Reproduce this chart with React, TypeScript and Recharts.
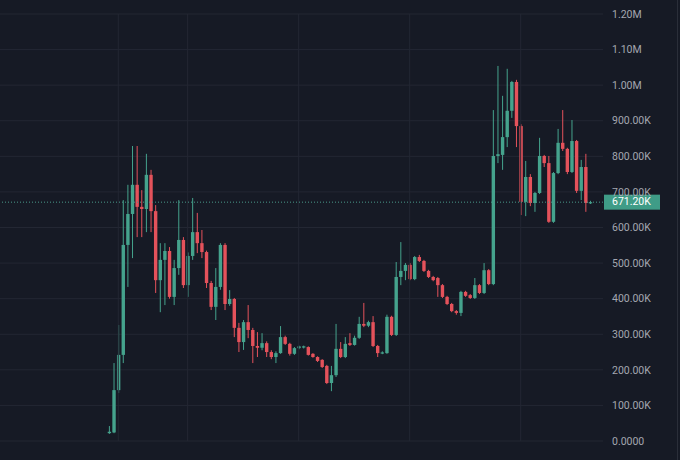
import { Bar, CartesianGrid, ComposedChart, ReferenceLine, XAxis, YAxis } from 'recharts';

// candle values in thousands
const opens = [
  22, 24, 143, 242, 551, 638, 720, 658, 652, 748, 646, 452, 509, 534, 405, 486, 565, 438, 520, 587,
  556, 531, 444, 377, 433, 551, 385, 399, 318, 278, 334, 312, 267, 262, 275, 250, 236, 247, 292, 273,
  245, 261, 264, 264, 245, 236, 228, 211, 163, 185, 259, 236, 275, 270, 290, 329, 324, 334, 267, 247,
  247, 349, 298, 461, 478, 495, 455, 517, 506, 478, 461, 458, 438, 405, 385, 365, 360, 419, 410, 402,
  438, 416, 480, 441, 801, 804, 854, 928, 1009, 885, 672, 742, 669, 697, 801, 781, 616, 753, 838, 821,
  756, 843, 703, 770, 669,
];
const highs = [
  42, 219, 326, 677, 720, 829, 829, 705, 807, 762, 663, 556, 556, 545, 509, 677, 573, 530, 683, 641,
  593, 535, 450, 486, 556, 556, 424, 402, 332, 340, 382, 318, 306, 303, 280, 255, 252, 323, 296, 276,
  264, 268, 268, 266, 247, 238, 230, 214, 211, 329, 278, 292, 303, 296, 349, 388, 338, 351, 270, 252,
  355, 352, 503, 559, 500, 500, 520, 523, 509, 481, 464, 461, 441, 408, 388, 368, 422, 422, 413, 458,
  441, 500, 483, 930, 1054, 970, 1046, 1012, 1015, 890, 787, 750, 700, 852, 804, 801, 756, 877, 930, 824,
  902, 846, 790, 807, 675,
];
const lows = [
  20, 22, 135, 219, 433, 514, 573, 573, 587, 587, 416, 362, 382, 400, 382, 467, 430, 405, 509, 528,
  514, 430, 368, 340, 425, 368, 380, 292, 250, 256, 289, 219, 236, 255, 236, 230, 219, 245, 270, 240,
  242, 258, 260, 240, 234, 222, 205, 160, 140, 180, 233, 233, 267, 268, 287, 320, 320, 264, 236, 244,
  245, 295, 295, 438, 452, 452, 452, 503, 475, 458, 449, 405, 402, 382, 362, 355, 351, 405, 399, 399,
  413, 413, 438, 438, 781, 762, 826, 908, 826, 635, 632, 660, 644, 694, 770, 613, 613, 750, 815, 750,
  753, 697, 677, 644, 666,
];
const closes = [
  26, 143, 242, 551, 638, 720, 658, 652, 748, 646, 452, 509, 534, 405, 486, 565, 438, 520, 587, 556,
  531, 444, 377, 433, 551, 385, 399, 318, 278, 334, 312, 267, 262, 275, 250, 236, 247, 292, 273, 245,
  261, 266, 266, 242, 236, 225, 208, 163, 185, 259, 236, 273, 270, 290, 329, 324, 334, 267, 247, 249,
  349, 298, 461, 478, 495, 455, 517, 506, 478, 461, 452, 438, 405, 385, 365, 360, 419, 408, 402, 438,
  416, 480, 441, 801, 806, 854, 928, 1009, 885, 672, 742, 669, 697, 801, 781, 616, 753, 838, 821, 756,
  843, 703, 770, 669, 671.2,
];

const priceTicks = [0, 100, 200, 300, 400, 500, 600, 700, 800, 900, 1000, 1100, 1200].map((v) => v * 1000);
const gridCandles = [2, 17, 41, 65, 89];
const lastPrice = 671200;

const GREEN = '#45a38d';
const RED = '#e4525b';
const BG = '#161a25';
const GRID = '#232733';

const data = opens.map((o, i) => ({
  i,
  open: o * 1000,
  high: highs[i] * 1000,
  low: lows[i] * 1000,
  close: closes[i] * 1000,
}));

const formatPrice = (v: number) => {
  if (v === 0) return '0.0000';
  if (v >= 1000000) return `${(v / 1000000).toFixed(2)}M`;
  return `${(v / 1000).toFixed(2)}K`;
};

function Candle(props: any) {
  const { x, y, width, height, payload } = props;
  if (!payload) return null;
  const { open, close, high, low } = payload;
  const color = close >= open ? GREEN : RED;
  const top = Math.min(y, y + height);
  const h = Math.abs(height);
  const span = high - low || 1;
  const toY = (v: number) => top + ((high - v) / span) * h;
  const cx = x + width / 2;
  const bodyTop = toY(Math.max(open, close));
  const bodyBottom = toY(Math.min(open, close));
  return (
    <g>
      <line x1={cx} x2={cx} y1={top} y2={top + h} stroke={color} strokeWidth={1} />
      <rect x={x} y={bodyTop} width={width} height={Math.max(bodyBottom - bodyTop, 1.2)} fill={color} />
    </g>
  );
}

function PriceTag(props: any) {
  const vb = props.viewBox;
  if (!vb) return null;
  const bx = vb.x + vb.width + 1;
  return (
    <g>
      <rect x={bx} y={vb.y - 7.5} width={56} height={15} fill="#3f9c87" />
      <text
        x={bx + 8}
        y={vb.y + 0.5}
        dominantBaseline="middle"
        fill="#ffffff"
        fontSize={10.5}
        fontFamily="Roboto, sans-serif"
      >
        {formatPrice(lastPrice)}
      </text>
    </g>
  );
}

export default function App() {
  return (
    <div style={{ position: 'absolute', left: 0, top: 0, width: 680, height: 460, background: BG }}>
      <ComposedChart width={680} height={460} data={data} margin={{ top: 14, right: 0, bottom: 19, left: 0 }}>
        <CartesianGrid stroke={GRID} strokeWidth={1} vertical={false} />
        <XAxis
          dataKey="i"
          type="category"
          ticks={gridCandles}
          padding={{ left: 106.7, right: 10.6 }}
          height={0}
          tick={false}
          axisLine={false}
          tickLine={false}
        />
        <YAxis
          orientation="right"
          width={77}
          domain={[0, 1200000]}
          ticks={priceTicks}
          tickFormatter={formatPrice}
          axisLine={false}
          tickLine={false}
          tickSize={0}
          tickMargin={9}
          tick={{ fill: '#a4a7b0', fontSize: 10.5, fontFamily: 'Roboto, sans-serif', textAnchor: 'start' }}
        />
        {gridCandles.map((c) => (
          <ReferenceLine key={c} x={c} stroke={GRID} strokeWidth={1} />
        ))}
        <Bar dataKey={(d: any) => [d.low, d.high]} barSize={3.4} shape={<Candle />} isAnimationActive={false} />
        <ReferenceLine
          y={lastPrice}
          stroke="#4a9a8b"
          strokeDasharray="1 2"
          strokeWidth={1}
          label={<PriceTag />}
        />
      </ComposedChart>
      <div style={{ position: 'absolute', left: 677, top: 0, width: 1, height: 460, background: '#2a2e39' }} />
    </div>
  );
}
